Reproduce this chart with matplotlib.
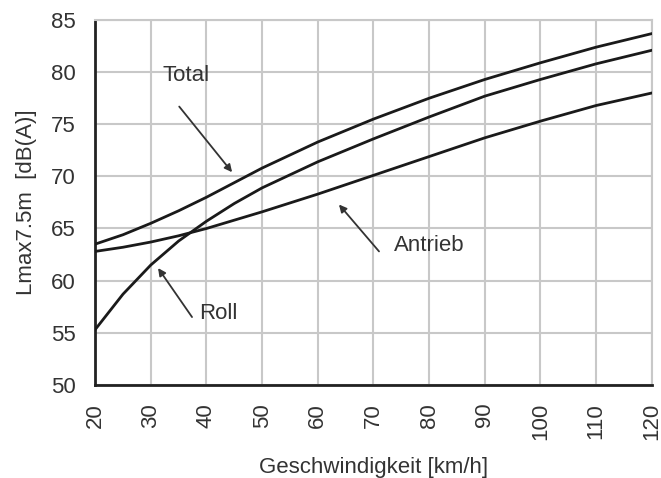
import numpy as np
import matplotlib.pyplot as plt

plt.rcParams['font.family'] = ['Liberation Sans', 'DejaVu Sans']

# Speed (km/h) and levels (dB(A))
speed = [20, 25, 30, 35, 40, 45, 50, 60, 70, 80, 90, 100, 110, 120]
total = [63.5, 64.4, 65.5, 66.7, 68.0, 69.4, 70.8, 73.3, 75.5, 77.5, 79.3, 80.9, 82.4, 83.7]
roll = [55.3, 58.7, 61.5, 63.8, 65.7, 67.4, 68.9, 71.4, 73.6, 75.7, 77.7, 79.3, 80.8, 82.1]
antrieb = [62.8, 63.2, 63.7, 64.3, 65.0, 65.8, 66.6, 68.3, 70.1, 71.9, 73.7, 75.3, 76.8, 78.0]

xticks = list(range(20, 121, 10))
yticks = list(range(50, 86, 5))

fig = plt.figure(figsize=(6.61, 4.78), dpi=100)
ax = fig.add_axes([0.144, 0.195, 0.842, 0.763])

for ys in (total, roll, antrieb):
    ax.plot(speed, ys, color='#1a1a1a', lw=2.0, zorder=3)

ax.set_xlim(20, 120)
ax.set_ylim(50, 85)
ax.set_xticks(xticks)
ax.set_yticks(yticks)
ax.set_xticklabels([str(t) for t in xticks], rotation=90)
ax.tick_params(length=0, labelsize=16, colors='#333333')
ax.tick_params(axis='y', pad=14)
ax.tick_params(axis='x', pad=13)
ax.grid(True, color='#c8c8c8', lw=1.5)
ax.set_axisbelow(True)

for s in ('top', 'right'):
    ax.spines[s].set_color('#c8c8c8')
    ax.spines[s].set_linewidth(1.5)
for s in ('left', 'bottom'):
    ax.spines[s].set_color('#222222')
    ax.spines[s].set_linewidth(2)

ax.set_xlabel('Geschwindigkeit [km/h]', fontsize=16, color='#333333', labelpad=12)
ax.set_ylabel('Lmax7.5m  [dB(A)]', fontsize=16, color='#333333', labelpad=10)

# label texts
ax.text(36.3, 79.7, 'Total', fontsize=16, color='#333333', ha='center', va='center')
ax.text(42.1, 56.8, 'Roll', fontsize=16, color='#333333', ha='center', va='center')
ax.text(80.1, 63.4, 'Antrieb', fontsize=16, color='#333333', ha='center', va='center')

# arrows (tail, head)
arrow = dict(arrowstyle='-|>', color='#333333', lw=1.3, mutation_scale=11,
             shrinkA=0, shrinkB=0)
ax.annotate('', xy=(44.6, 70.4), xytext=(35.1, 76.7), arrowprops=arrow)
ax.annotate('', xy=(31.3, 61.2), xytext=(37.4, 56.5), arrowprops=arrow)
ax.annotate('', xy=(63.8, 67.3), xytext=(71.0, 62.8), arrowprops=arrow)

fig.savefig('out.png', dpi=100)
